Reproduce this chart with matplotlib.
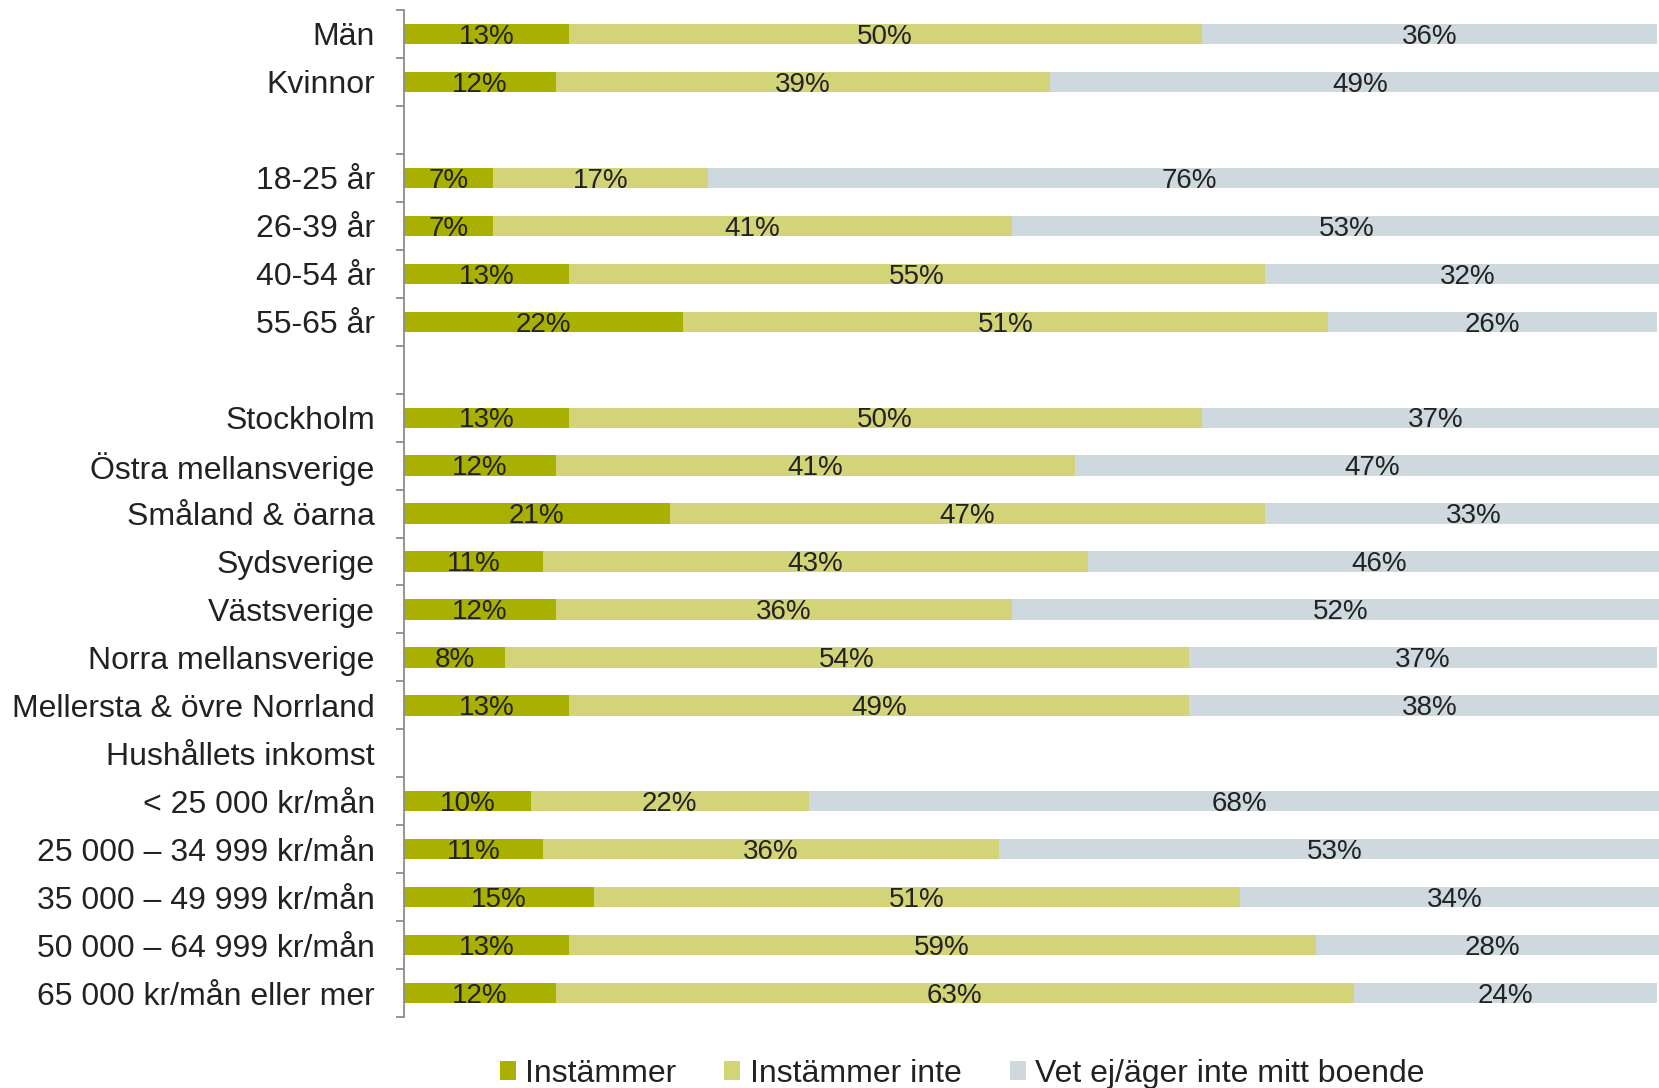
import matplotlib
matplotlib.use("Agg")
import matplotlib.pyplot as plt
from matplotlib.patches import Patch
import numpy as np

plt.rcParams['font.family'] = ['Liberation Sans', 'DejaVu Sans']

# ---- data ----
categories = [
    'Män', 'Kvinnor', '',
    '18-25 år', '26-39 år', '40-54 år', '55-65 år', '',
    'Stockholm', 'Östra mellansverige', 'Småland & öarna', 'Sydsverige',
    'Västsverige', 'Norra mellansverige', 'Mellersta & övre Norrland',
    'Hushållets inkomst',
    '< 25 000 kr/mån', '25 000 – 34 999 kr/mån', '35 000 – 49 999 kr/mån',
    '50 000 – 64 999 kr/mån', '65 000 kr/mån eller mer',
]
instammer = [13, 12, None, 7, 7, 13, 22, None, 13, 12, 21, 11, 12, 8, 13,
             None, 10, 11, 15, 13, 12]
instammer_inte = [50, 39, None, 17, 41, 55, 51, None, 50, 41, 47, 43, 36, 54, 49,
                  None, 22, 36, 51, 59, 63]
vet_ej = [36, 49, None, 76, 53, 32, 26, None, 37, 47, 33, 46, 52, 37, 38,
          None, 68, 53, 34, 28, 24]

series_names = ['Instämmer', 'Instämmer inte', 'Vet ej/äger inte mitt boende']
colors = ['#A9B100', '#D3D478', '#CDD8DF']

# ---- figure ----
fig = plt.figure(figsize=(16.59, 10.88), dpi=100)
ax = fig.add_axes([404 / 1659, 0.065, 1266 / 1659, 0.926])

y = np.arange(len(categories))
series = [instammer, instammer_inte, vet_ej]
left = np.zeros(len(categories))
for vals, col in zip(series, colors):
    v = np.array([np.nan if x is None else x for x in vals], dtype=float)
    mask = ~np.isnan(v)
    ax.barh(y[mask], v[mask], left=left[mask], height=0.42, color=col,
            edgecolor='none')
    for yi, li, vi in zip(y[mask], left[mask], v[mask]):
        ax.text(li + vi / 2, yi + 0.06, f"{int(vi)}%", ha='center', va='center',
                fontsize=20, color='#222222')
    left[mask] += v[mask]

ax.set_xlim(0, 100)
ax.set_ylim(len(categories) - 0.5, -0.5)
ax.set_yticks(y)
ax.set_yticklabels(categories, fontsize=23, color='#222222')
ax.set_yticks(np.arange(-0.5, len(categories), 1), minor=True)
ax.tick_params(axis='y', which='major', length=0, pad=21)
ax.tick_params(axis='y', which='minor', length=6, width=1.3, color='#8C8C8C')
ax.set_xticks([])
for s in ['top', 'right', 'bottom']:
    ax.spines[s].set_visible(False)
ax.spines['left'].set_color('#8C8C8C')
ax.spines['left'].set_linewidth(1.3)

handles = [Patch(facecolor=c, edgecolor='none') for c in colors]
fig.legend(handles, series_names, loc='center', bbox_to_anchor=(0.58, 0.013),
           ncol=3, frameon=False, fontsize=23, handlelength=0.5,
           handleheight=0.5, handletextpad=0.3, columnspacing=1.5,
           labelcolor='#222222')

fig.savefig('out.png', dpi=100)
